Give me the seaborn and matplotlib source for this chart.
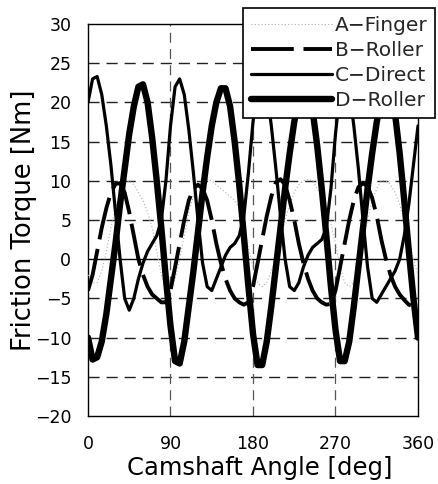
import numpy as np
import pandas as pd
import matplotlib
matplotlib.use("Agg")
import matplotlib.pyplot as plt
import seaborn as sns

# camshaft angle, every 5 deg
angle = list(range(0, 365, 5))

finger_a = [-2, -3, -3, -1.5, 1, 4, 6.5, 8.5, 9.5, 10, 9.5, 8.5, 7.5, 6, 4, 1, -2, -3.5,
            -3.5, -2.5, 0, 3, 6, 8, 9.5, 10, 10.2, 10, 9.5, 9, 8.5, 8, 7.5, 6.5, 4, 1.5,
            -1, -3, -3.5, -3, -1.5, 0, 2.5, 5, 7, 8.5, 9.5, 10, 10.2, 10, 9, 8, 6.5, 4.5,
            2, -1, -3, -3.5, -3, -1, 2, 5, 7.5, 9, 10, 10, 9.5, 8.5, 7, 5, 2.5, 0, -2]

roller_b = [-4, -2, 1, 4, 6.5, 8.5, 9.6, 9.7, 8.5, 6, 3, 0, -2, -3.5, -4.5, -5, -5.5, -5.5,
            -4, -1, 2, 5, 7.5, 9, 9.5, 9, 7.5, 5, 2, -0.5, -2.5, -4, -5, -5.5, -5.8, -5.5,
            -3.5, -0.5, 2.5, 5.5, 8, 9.8, 10.2, 9.5, 7.5, 5, 2, -0.5, -2.5, -4, -5, -5.5,
            -5.8, -5.7, -4, -1, 2, 5, 7.5, 9.2, 9.7, 9.3, 7.8, 5.5, 2.5, 0, -2, -3.5, -4.5,
            -5.2, -5.8, -6, -6.5]

direct_c = [20, 23, 23.3, 21, 17, 12, 6, 0, -5, -6.5, -5, -2.5, -0.5, 1, 2, 3, 5, 10,
            17, 22, 23, 21, 16.5, 11, 5, -0.5, -3.5, -4, -2.5, -1, 0.5, 1.5, 2, 3, 5.5, 11,
            17.5, 22, 23, 21.5, 17, 11.5, 5.5, 0, -3.5, -4, -3, -1, 0.5, 1.5, 2, 2.5, 4, 9,
            16, 21.5, 23, 21.5, 17, 11.5, 5, -1, -5, -5.5, -4.5, -3.5, -2.5, -1.5, 0, 3,
            7, 12, 17]

roller_d = [-10, -12.8, -12.5, -10.5, -7, -2.5, 2, 7, 11.5, 16, 19.5, 22, 22.3, 20, 15.5,
            10, 4, -2.5, -8.5, -13, -13.3, -10.5, -6, -1.5, 3.5, 8.5, 13, 17, 20, 21.8,
            21.8, 19.5, 15, 9.5, 3, -3.5, -9.5, -13.5, -13.5, -10.5, -6, -1, 4, 9, 13.5,
            17.5, 20.5, 22, 21.5, 19, 14.5, 9, 3, -3.5, -9, -13, -13, -10.5, -6, -1, 4, 9,
            13.5, 17.5, 20.5, 22, 21.5, 18.5, 13.5, 7.5, 1, -5, -10]

labels = ["A\u2212Finger", "B\u2212Roller", "C\u2212Direct", "D\u2212Roller"]
yticks = list(range(-20, 35, 5))
xticks = [0, 90, 180, 270, 360]

df = pd.DataFrame({"angle": angle, labels[0]: finger_a, labels[1]: roller_b,
                   labels[2]: direct_c, labels[3]: roller_d})

sns.set_theme(style="white")
plt.rcParams["font.family"] = ["DejaVu Sans"]

fig = plt.figure(figsize=(4.39, 4.84), dpi=100)
ax = fig.add_axes([88 / 439, 1 - 416 / 484, 330 / 439, 392 / 484])

# grid
for y in yticks[1:-1]:
    if y == 0:
        ax.axhline(0, color="black", lw=1.0, zorder=1)
    else:
        ax.axhline(y, color="#222222", lw=1.0, linestyle=(0, (8, 5)), zorder=1)
for x in xticks[1:-1]:
    ax.axvline(x, color="#555555", lw=0.9, linestyle=(0, (8, 5)), zorder=1)

styles = {
    labels[0]: dict(color="#b0b0b0", lw=0.8, linestyle=(0, (1, 2))),
    labels[1]: dict(color="black", lw=2.8, linestyle=(0, (11, 2.5))),
    labels[2]: dict(color="black", lw=2.3, linestyle="-"),
    labels[3]: dict(color="black", lw=4.6, linestyle="-"),
}
for name in labels:
    sns.lineplot(data=df, x="angle", y=name, ax=ax, label=name,
                 solid_capstyle="round", zorder=3, **styles[name])

ax.set_xlim(0, 360)
ax.set_ylim(-20, 30)
ax.set_xticks(xticks)
ax.set_yticks(yticks)
ax.set_xticklabels([str(v) for v in xticks])
ax.set_yticklabels([str(v).replace("-", "\u2212") for v in yticks])
ax.tick_params(axis="both", length=0, labelsize=12.5, colors="black")
ax.tick_params(axis="x", pad=14)
ax.tick_params(axis="y", pad=12)
for s in ax.spines.values():
    s.set_color("black")
    s.set_linewidth(1.0)

ax.set_xlabel("Camshaft Angle [deg]", fontsize=17.5, color="black")
ax.xaxis.set_label_coords(0.52, -0.103)
ax.set_ylabel("Friction Torque [Nm]", fontsize=18.5, color="black")
ax.yaxis.set_label_coords(-0.155, 0.5)

leg = ax.legend(loc="upper left", bbox_to_anchor=(243 / 439, 1 - 8 / 484),
                bbox_transform=fig.transFigure, fontsize=14.5, handlelength=4.0,
                handletextpad=0.15, borderpad=0.4, labelspacing=0.3,
                borderaxespad=0, fancybox=False, framealpha=1, edgecolor="black")
leg.get_frame().set_linewidth(1.2)
leg.set_zorder(5)

fig.savefig("out.png", dpi=100)
